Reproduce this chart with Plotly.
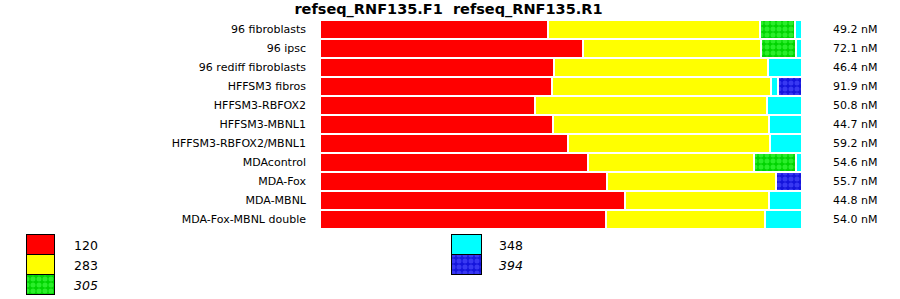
import plotly.graph_objects as go

W, H = 900, 299

categories = ["96 fibroblasts", "96 ipsc", "96 rediff fibroblasts", "HFFSM3 fibros",
              "HFFSM3-RBFOX2", "HFFSM3-MBNL1", "HFFSM3-RBFOX2/MBNL1", "MDAcontrol",
              "MDA-Fox", "MDA-MBNL", "MDA-Fox-MBNL double"]
concentrations = ["49.2 nM", "72.1 nM", "46.4 nM", "91.9 nM", "50.8 nM", "44.7 nM",
                  "59.2 nM", "54.6 nM", "55.7 nM", "44.8 nM", "54.0 nM"]

series_names = ["120", "283", "305", "348", "394"]
s120 = [47.3, 54.6, 48.5, 48.1, 44.6, 48.3, 51.5, 55.6, 59.5, 63.3, 59.3]
s283 = [44.0, 36.9, 44.4, 45.4, 48.1, 44.8, 41.9, 34.4, 35.1, 29.9, 33.0]
s305 = [7.3, 7.3, None, None, None, None, None, 8.8, None, None, None]
s348 = [1.4, 1.2, 7.1, 1.5, 7.3, 6.9, 6.6, 1.2, None, 6.8, 7.7]
s394 = [None, None, None, 5.0, None, None, None, None, 5.4, None, None]
series_values = [s120, s283, s305, s348, s394]
italic = [False, False, True, False, True]

colors = ["#ff0000", "#ffff00", "#00d400", "#00ffff", "#1414dc"]
patterns = [None, None,
            dict(shape=".", bgcolor="#00d400", fgcolor="#2aee2a", fgopacity=1, size=6, solidity=0.55),
            None,
            dict(shape=".", bgcolor="#1414dc", fgcolor="#3838f2", fgopacity=1, size=6, solidity=0.55)]

FONT = "DejaVu Sans"

fig = go.Figure()
for name, vals, col, pat in zip(series_names, series_values, colors, patterns):
    marker = dict(color=col, line=dict(color="white", width=2))
    if pat:
        marker["pattern"] = pat
    fig.add_trace(go.Bar(
        y=list(range(len(categories))), x=vals, orientation="h", name=name,
        marker=marker, width=1.0, showlegend=False, hoverinfo="skip"))

# plot area in pixels
px0, px1 = 320, 802
py0, py1 = 20, 229
fig.update_layout(
    width=W, height=H, barmode="stack", bargap=0,
    margin=dict(l=0, r=0, t=0, b=0),
    paper_bgcolor="white", plot_bgcolor="rgba(0,0,0,0)",
    font=dict(family=FONT, size=11, color="black"),
    xaxis=dict(domain=[px0 / W, px1 / W], range=[0, 100], visible=False, fixedrange=True),
    yaxis=dict(domain=[1 - py1 / H, 1 - py0 / H], range=[len(categories) - 0.5, -0.5],
               tickmode="array", tickvals=list(range(len(categories))), ticktext=categories,
               showgrid=False, zeroline=False, showline=False, ticks="",
               ticklabelstandoff=13, tickfont=dict(family=FONT, size=11, color="black")),
    xaxis2=dict(domain=[0, 1], range=[0, W], visible=False, anchor="y2"),
    yaxis2=dict(domain=[0, 1], range=[H, 0], visible=False, anchor="x2"),
    title=dict(text="refseq_RNF135.F1  refseq_RNF135.R1", x=448.5 / W, xanchor="center",
               y=1 - 8.5 / H, yanchor="middle",
               font=dict(family=FONT, size=14.5, color="black", weight="bold")),
)

# concentration labels at right
for i, t in enumerate(concentrations):
    fig.add_annotation(x=831 / W, xref="paper", y=i, yref="y", text=t, showarrow=False,
                       xanchor="left", yanchor="middle", font=dict(family=FONT, size=11))

# custom legend: two columns (3 + 2)
leg_cols = [(27, 28, 72), (452, 30, 497)]
for k, (name, col, pat, it) in enumerate(zip(series_names, colors, patterns, italic)):
    c = 0 if k < 3 else 1
    r = k if k < 3 else k - 3
    lx, lw, tx = leg_cols[c]
    top = 235 + r * 20
    marker = dict(color=col, line=dict(color="black", width=1.5))
    if pat:
        marker["pattern"] = pat
    fig.add_trace(go.Bar(x=[lx + lw / 2], y=[20], base=[top], width=[lw], marker=marker,
                         xaxis="x2", yaxis="y2", showlegend=False, hoverinfo="skip"))
    fig.add_annotation(x=tx / W, xref="paper", y=1 - (top + 10) / H, yref="paper",
                       text=f"<i>{name}</i>" if it else name, showarrow=False,
                       xanchor="left", yanchor="middle", font=dict(family=FONT, size=12.5))

fig.write_html("out.html")
